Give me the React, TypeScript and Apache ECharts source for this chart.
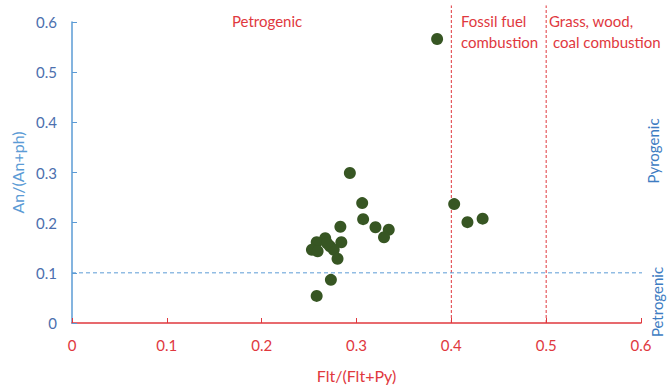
import React, { useEffect, useRef } from "react";
import * as echarts from "echarts";

const fltRatio = [0.385, 0.293, 0.306, 0.307, 0.283, 0.32, 0.334, 0.329, 0.267, 0.258, 0.284, 0.253, 0.259, 0.272, 0.276, 0.269, 0.28, 0.273, 0.258, 0.403, 0.417, 0.433];
const anRatio = [0.566, 0.299, 0.239, 0.207, 0.192, 0.191, 0.186, 0.171, 0.169, 0.161, 0.161, 0.146, 0.143, 0.153, 0.146, 0.159, 0.128, 0.086, 0.054, 0.237, 0.201, 0.208];
const fossilLine = [[0.4, 0], [0.4, 0.633]];
const grassLine = [[0.5, 0], [0.5, 0.633]];
const petroLine = [[0, 0.1], [0.612, 0.1]];

const RED = "#E0383E";
const BLUE_AX = "#5B9BD5";
const BLUE_LBL = "#4C6FAE";
const FONT = "Lato";

export default function App() {
  const ref = useRef<HTMLDivElement>(null);
  useEffect(() => {
    if (!ref.current) return;
    const chart = echarts.init(ref.current, undefined, { renderer: "svg" });
    const pts = fltRatio.map((x, i) => [x, anRatio[i]]);
    const txt = (x: number, y: number, text: string, color: string, rotation = 0) => ({
      type: "text",
      x,
      y,
      rotation,
      style: { text, fill: color, font: `15px ${FONT}`, textAlign: rotation ? "center" : "left", textVerticalAlign: "middle" },
    });
    chart.setOption({
      animation: false,
      textStyle: { fontFamily: FONT },
      grid: { left: 72, right: 29, top: 22, bottom: 60 },
      xAxis: {
        type: "value",
        min: 0,
        max: 0.6,
        interval: 0.1,
        name: "Flt/(Flt+Py)",
        nameLocation: "middle",
        nameGap: 44,
        nameTextStyle: { color: RED, fontSize: 16, fontFamily: FONT },
        axisLine: { lineStyle: { color: RED, width: 1.5 } },
        axisTick: { inside: true, length: 5, lineStyle: { color: RED } },
        axisLabel: { color: RED, fontSize: 15, margin: 14, fontFamily: FONT },
        splitLine: { show: false },
      },
      yAxis: {
        type: "value",
        min: 0,
        max: 0.6,
        interval: 0.1,
        name: "An/(An+ph)",
        nameLocation: "middle",
        nameGap: 47,
        nameTextStyle: { color: BLUE_AX, fontSize: 16, fontFamily: FONT },
        axisLine: { lineStyle: { color: BLUE_AX, width: 1.5 } },
        axisTick: { inside: true, length: 5, lineStyle: { color: BLUE_AX } },
        axisLabel: { color: BLUE_LBL, fontSize: 15, margin: 15, fontFamily: FONT },
        splitLine: { show: false },
      },
      series: [
        {
          type: "line",
          data: fossilLine,
          clip: false,
          symbol: "none",
          lineStyle: { color: RED, type: [3, 2], width: 1 },
          z: 1,
        },
        {
          type: "line",
          data: grassLine,
          clip: false,
          symbol: "none",
          lineStyle: { color: RED, type: [3, 2], width: 1 },
          z: 1,
        },
        {
          type: "line",
          data: petroLine,
          clip: false,
          symbol: "none",
          lineStyle: { color: BLUE_AX, type: [4, 3], width: 1 },
          z: 1,
        },
        {
          type: "scatter",
          data: pts,
          symbolSize: 12,
          itemStyle: { color: "#375623", opacity: 1 },
          z: 3,
        },
      ],
      graphic: [
        txt(232, 21, "Petrogenic", RED),
        txt(461, 21, "Fossil fuel", RED),
        txt(461, 42, "combustion", RED),
        txt(549, 21, "Grass, wood,", RED),
        txt(553, 42, "coal combustion", RED),
        txt(653, 151, "Pyrogenic", "#3D7CC2", -Math.PI / 2),
        txt(657, 302, "Petrogenic", "#3D7CC2", -Math.PI / 2),
      ].map((g: any) => (g.rotation ? { ...g, rotation: Math.PI / 2 } : g)),
    });
    return () => chart.dispose();
  }, []);
  return <div ref={ref} style={{ width: 670, height: 388, position: "absolute", left: 0, top: 0 }} />;
}
